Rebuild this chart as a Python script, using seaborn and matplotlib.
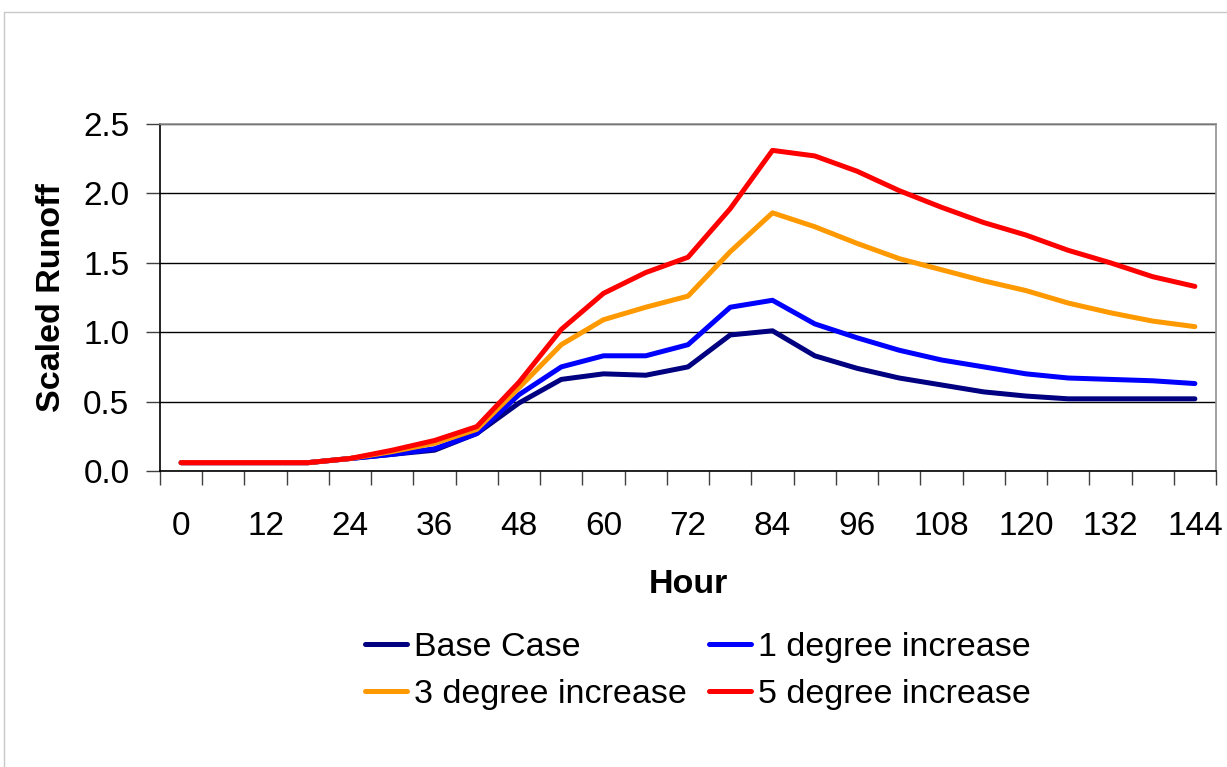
import numpy as np
import pandas as pd
import matplotlib
matplotlib.use("Agg")
import matplotlib.pyplot as plt
from matplotlib.ticker import FixedLocator
import seaborn as sns

hours = list(range(0, 145, 6))
base_case = [0.06, 0.06, 0.06, 0.06, 0.09, 0.12, 0.15, 0.27, 0.49, 0.66, 0.70, 0.69, 0.75,
             0.98, 1.01, 0.83, 0.74, 0.67, 0.62, 0.57, 0.54, 0.52, 0.52, 0.52, 0.52]
one_deg = [0.06, 0.06, 0.06, 0.06, 0.09, 0.12, 0.16, 0.27, 0.55, 0.75, 0.83, 0.83, 0.91,
           1.18, 1.23, 1.06, 0.96, 0.87, 0.80, 0.75, 0.70, 0.67, 0.66, 0.65, 0.63]
three_deg = [0.06, 0.06, 0.06, 0.06, 0.09, 0.14, 0.20, 0.30, 0.60, 0.91, 1.09, 1.18, 1.26,
             1.58, 1.86, 1.76, 1.64, 1.53, 1.45, 1.37, 1.30, 1.21, 1.14, 1.08, 1.04]
five_deg = [0.06, 0.06, 0.06, 0.06, 0.09, 0.15, 0.22, 0.32, 0.64, 1.02, 1.28, 1.43, 1.54,
            1.89, 2.31, 2.27, 2.16, 2.02, 1.90, 1.79, 1.70, 1.59, 1.50, 1.40, 1.33]
series_names = ["Base Case", "1 degree increase", "3 degree increase", "5 degree increase"]
colors = ["#000080", "#0000FF", "#FF9900", "#FF0000"]
y_ticks = [0.0, 0.5, 1.0, 1.5, 2.0, 2.5]
x_ticks = list(range(0, 145, 12))

df = pd.concat([
    pd.DataFrame({"Hour": hours, "Scaled Runoff": vals, "Series": name})
    for name, vals in zip(series_names, [base_case, one_deg, three_deg, five_deg])
], ignore_index=True)

sns.set_theme(style="white")
plt.rcParams['font.family'] = ['Liberation Sans', 'DejaVu Sans']
plt.rcParams['text.color'] = 'black'
plt.rcParams['axes.labelcolor'] = 'black'
plt.rcParams['xtick.color'] = 'black'
plt.rcParams['ytick.color'] = 'black'

fig = plt.figure(figsize=(12.27, 7.67), dpi=100)
ax = fig.add_axes([160/1227, 1-471/767, (1216-160)/1227, (471-124)/767])

sns.lineplot(data=df, x="Hour", y="Scaled Runoff", hue="Series",
             palette=dict(zip(series_names, colors)), hue_order=series_names,
             linewidth=3.6, ax=ax, legend=False, solid_capstyle='round')

ax.set_xlim(-3, 147)
ax.set_ylim(0, 2.5)
ax.set_yticks(y_ticks, [f"{v:.1f}" for v in y_ticks])
ax.set_xticks(x_ticks, [str(v) for v in x_ticks])
ax.xaxis.set_minor_locator(FixedLocator(list(np.arange(-3, 148, 6))))
ax.tick_params(axis='x', which='major', length=0, labelsize=24, pad=29)
ax.tick_params(axis='x', which='minor', length=10, width=1, color='#404040', direction='out', bottom=True)
ax.tick_params(axis='y', which='major', length=10, width=1, color='#404040', direction='out',
               labelsize=24, pad=12, left=True)
ax.grid(axis='y', color='#000000', linewidth=1)
ax.grid(axis='x', visible=False)
ax.set_axisbelow(True)

for s in ['left', 'bottom']:
    ax.spines[s].set_color('#000000')
    ax.spines[s].set_linewidth(1.2)
for s in ['right', 'top']:
    ax.spines[s].set_color('#909090')
    ax.spines[s].set_linewidth(1.2)

ax.set_xlabel("Hour", fontsize=24.5, fontweight='bold', labelpad=19)
ax.set_ylabel("Scaled Runoff", fontsize=24.5, fontweight='bold', labelpad=12)

handles = [plt.Line2D([], [], color=c, linewidth=3.6) for c in colors]
order = [0, 2, 1, 3]
fig.legend([handles[i] for i in order], [series_names[i] for i in order],
           loc='center', bbox_to_anchor=(698/1227, 1-671/767), ncol=2, frameon=False,
           fontsize=24.5, handlelength=1.23, columnspacing=0.65, handletextpad=0.2,
           labelspacing=0.49, borderpad=0)

# figure border
fig.add_artist(plt.Line2D([4/1227, 4/1227], [0, 1-12/767], transform=fig.transFigure,
                          color='#c8c8c8', linewidth=1))
fig.add_artist(plt.Line2D([4/1227, 1], [1-12/767, 1-12/767], transform=fig.transFigure,
                          color='#c8c8c8', linewidth=1))

fig.savefig("out.png", dpi=100)
